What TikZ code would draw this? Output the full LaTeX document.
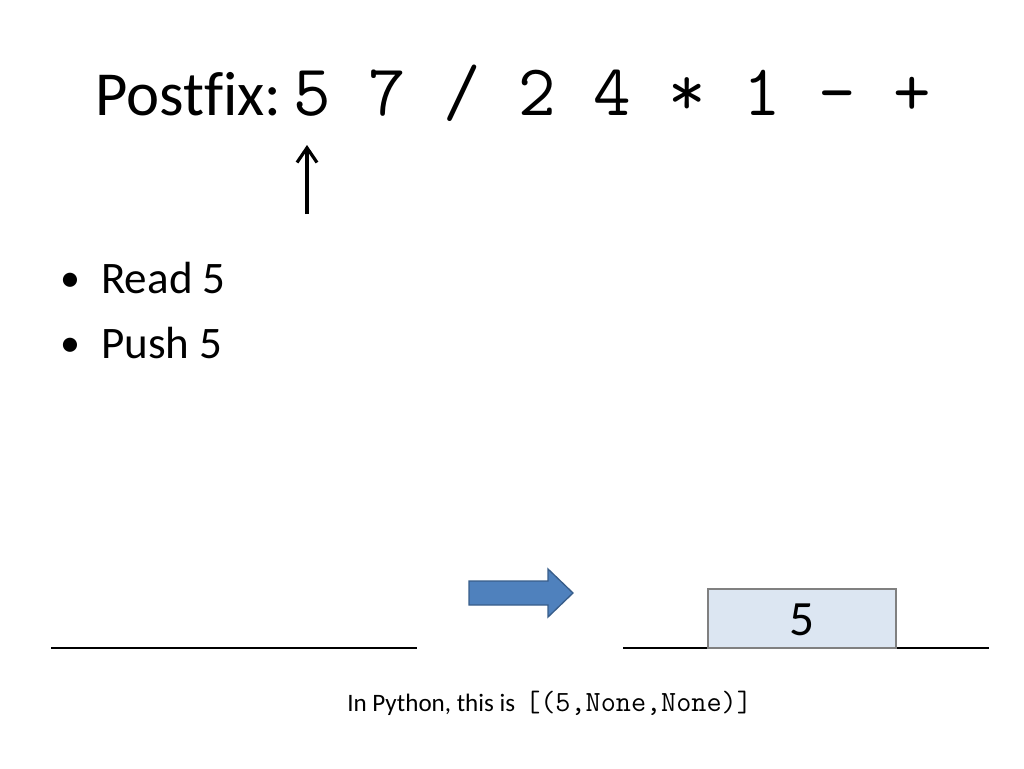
\documentclass[tikz,border=0pt]{standalone}
\usepackage{fontspec}
\setmainfont{Carlito}[Ligatures=NoCommon]
\usetikzlibrary{arrows.meta}

\tikzset{
  slidetext/.style={anchor=base west, inner sep=0pt, font=\fontsize{#1}{#1}\selectfont},
  monotext/.style={anchor=base west, inner sep=0pt, font=\fontsize{#1}{#1}\selectfont\ttfamily},
  stackbox/.style={draw=black!50, fill={rgb,255:red,220;green,230;blue,242}, line width=0.8pt},
  floor/.style={line width=0.9pt}
}

\begin{document}
\begin{tikzpicture} [x=0.75pt, y=-0.75pt]
\useasboundingbox (0,0) rectangle (1024,768);
% title line
\node [slidetext=47pt] (postfix) at (95,115) {Postfix:};
\node [monotext=54.6pt] (expr) at (293,115) {5 7 / 2 4 * 1 - +};
\coordinate (tail) at (307,214);
\coordinate (head) at (307,145);
\draw [line width=2.4pt, -{Straight Barb[length=11pt, width=15pt]}] (tail) -- (head);
% bullets
\node [slidetext=30pt] (b1) at (60,291) {\textbullet};
\node [slidetext=33.8pt] (read) at (101,293) {Read 5};
\node [slidetext=30pt] (b2) at (60,356) {\textbullet};
\node [slidetext=33.8pt] (push) at (101,358) {Push 5};
% before / after stacks
\coordinate (l1) at (51,648);
\coordinate (l2) at (417,648);
\coordinate (r1) at (623,648);
\coordinate (r2) at (989,648);
\draw [floor] (l1) -- (l2);
\draw [floor] (r1) -- (r2);
\draw [fill={rgb,255:red,79;green,129;blue,189}, draw={rgb,255:red,56;green,93;blue,138}, line width=1pt]
  (469,581) -- (548,581) -- (548,569) -- (573,593) -- (548,617) -- (548,605) -- (469,605) -- cycle;
\draw [stackbox] (708,648) rectangle (896,589);
\node [anchor=center, inner sep=0pt, font=\fontsize{37pt}{37pt}\selectfont] (top) at (802,620) {5};
% caption
\node [slidetext=18.8pt] (py) at (347,711) {In Python, this is};
\node [monotext=22pt] (pylist) at (525,711) {[(5,None,None)]};
\end{tikzpicture}
\end{document}
